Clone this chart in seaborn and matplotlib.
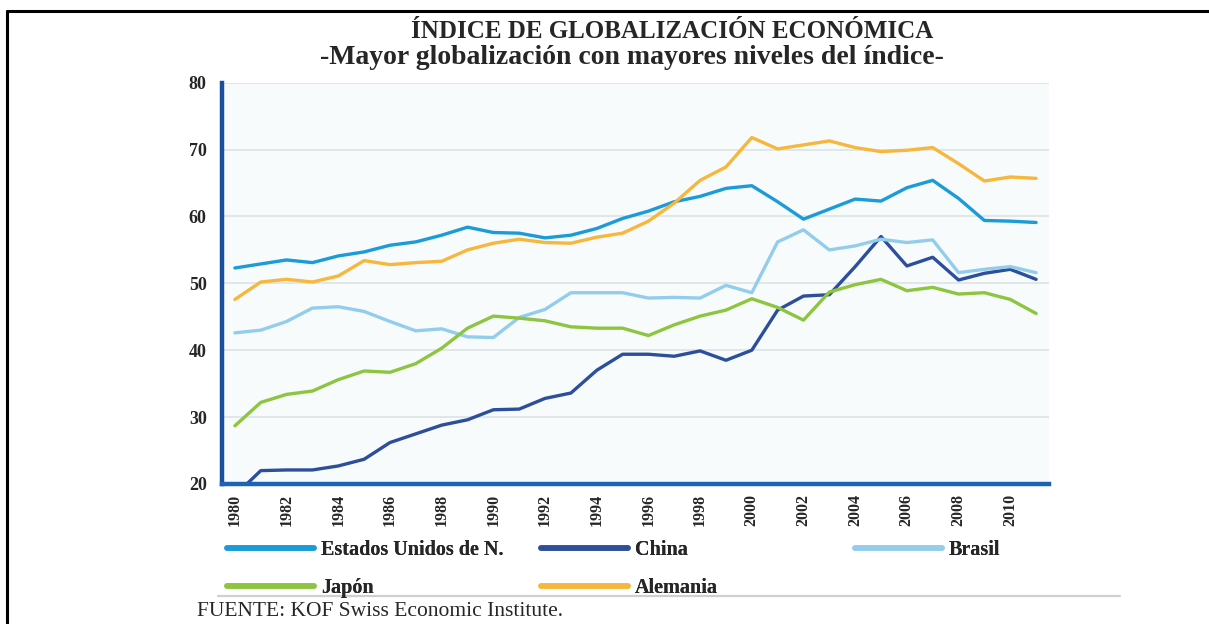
import numpy as np
import pandas as pd
import matplotlib
matplotlib.use("Agg")
import matplotlib.pyplot as plt
from matplotlib.lines import Line2D
import seaborn as sns

# data (KOF index, 1980-2011)
years = list(range(1980, 2012))
estados_unidos = [52.3, 52.9, 53.5, 53.1, 54.1, 54.7, 55.7, 56.2, 57.2, 58.4, 57.6, 57.5,
                  56.8, 57.2, 58.2, 59.7, 60.8, 62.2, 63.0, 64.2, 64.6, 62.2, 59.6, 61.1,
                  62.6, 62.3, 64.3, 65.4, 62.7, 59.4, 59.3, 59.1]
china = [18.3, 22.0, 22.1, 22.1, 22.7, 23.7, 26.2, 27.5, 28.8, 29.6, 31.1, 31.2,
         32.8, 33.6, 37.0, 39.4, 39.4, 39.1, 39.9, 38.5, 40.0, 46.0, 48.1, 48.3,
         52.5, 57.0, 52.6, 53.9, 50.5, 51.5, 52.1, 50.6]
brasil = [42.6, 43.0, 44.3, 46.3, 46.5, 45.8, 44.3, 42.9, 43.2, 42.0, 41.9, 44.9,
          46.1, 48.6, 48.6, 48.6, 47.8, 47.9, 47.8, 49.7, 48.6, 56.2, 58.0, 55.0,
          55.6, 56.6, 56.1, 56.5, 51.6, 52.1, 52.5, 51.6]
japon = [28.7, 32.2, 33.4, 33.9, 35.6, 36.9, 36.7, 38.0, 40.3, 43.3, 45.1, 44.8,
         44.4, 43.5, 43.3, 43.3, 42.2, 43.8, 45.1, 46.0, 47.7, 46.4, 44.5, 48.7,
         49.8, 50.6, 48.9, 49.4, 48.4, 48.6, 47.6, 45.5]
alemania = [47.6, 50.2, 50.6, 50.2, 51.1, 53.4, 52.8, 53.1, 53.3, 55.0, 56.0, 56.6,
            56.1, 56.0, 56.9, 57.5, 59.3, 62.0, 65.4, 67.4, 71.8, 70.1, 70.7, 71.3,
            70.3, 69.7, 69.9, 70.3, 67.9, 65.3, 65.9, 65.7]

paises = ["Estados Unidos de N.", "China", "Brasil", "Japón", "Alemania"]
colores = ["#1b9bd7", "#2c4e9b", "#93cdec", "#8dc540", "#f6b73c"]
series = [estados_unidos, china, brasil, japon, alemania]
y_ticks = [20, 30, 40, 50, 60, 70, 80]

rows = []
for pais, vals in zip(paises, series):
    for i, v in enumerate(vals):
        rows.append({"idx": i, "anio": years[i], "pais": pais, "valor": v})
df = pd.DataFrame(rows)

sns.set_style("white")
plt.rcParams['font.family'] = ['Liberation Serif', 'DejaVu Serif']

W, H = 1209, 624
fig = plt.figure(figsize=(W / 100, H / 100), dpi=100)
ax = fig.add_axes([222 / W, 1 - 484 / H, (1049 - 222) / W, (484 - 82.7) / H])
ax.set_facecolor("#f7fbfc")

sns.lineplot(data=df, x="idx", y="valor", hue="pais", hue_order=paises,
             palette=dict(zip(paises, colores)), linewidth=2.4, legend=False, ax=ax)

ax.set_xlim(-0.5, len(years) - 0.5)
ax.set_ylim(20, 80)
ax.set_xlabel("")
ax.set_ylabel("")

# y axis
ax.set_yticks(y_ticks)
ax.set_yticklabels([str(t) for t in y_ticks], fontsize=13, fontweight="bold")
ax.yaxis.grid(True, color="#dde5e8", linewidth=1.3)
ax.set_axisbelow(True)

# x axis: labels every 2nd year, tick marks on the category boundaries
lab_pos = list(range(0, len(years), 2))
ax.set_xticks(lab_pos)
ax.set_xticklabels([str(years[i]) for i in lab_pos], rotation=90, fontsize=11.5,
                   fontweight="bold", va="top")
ax.set_xticks([i - 0.5 for i in range(0, len(years) + 1, 2)], minor=True)
ax.tick_params(axis="x", which="major", length=0, pad=7)
ax.tick_params(axis="x", which="minor", length=7, width=3.5, color="#2b4c8c")
ax.tick_params(axis="y", length=7, width=3.5, color="#2b4c8c", pad=4)

for s in ["top", "right"]:
    ax.spines[s].set_visible(False)
ax.spines["left"].set_color("#1a4fa0")
ax.spines["left"].set_linewidth(3.2)
ax.spines["bottom"].set_color("#1c62b8")
ax.spines["bottom"].set_linewidth(3.2)

# titles
fig.text(672 / W, 1 - 31 / H, "ÍNDICE DE GLOBALIZACIÓN ECONÓMICA", ha="center",
         va="center", fontsize=18, fontweight="bold")
fig.text(632 / W, 1 - 58 / H, "-Mayor globalización con mayores niveles del índice-",
         ha="center", va="center", fontsize=20, fontweight="bold")

# legend split in three columns like the original
def handle(c):
    return Line2D([0], [0], color=c, linewidth=4, solid_capstyle="round")

leg_kw = dict(frameon=False, borderpad=0, borderaxespad=0, handlelength=4.3,
              handletextpad=0.35, labelspacing=0.9,
              prop={"family": "Liberation Serif", "weight": "bold", "size": 14.5})
cols = [([0, 3], 227, 569), ([1, 4], 541, 569), ([2], 855, 550)]
for idxs, px, py in cols:
    lg = fig.legend([handle(colores[i]) for i in idxs], [paises[i] for i in idxs],
                    loc="center left", bbox_to_anchor=(px / W, 1 - py / H), **leg_kw)
    fig.add_artist(lg)

fig.add_artist(Line2D([218 / W, 1120 / W], [1 - 596 / H] * 2,
                      color="#cfcfcf", linewidth=1.6))

fig.text(197 / W, 1 - 612 / H, "FUENTE: KOF Swiss Economic Institute.",
         ha="left", va="center", fontsize=15.5)

# outer frame (top and left edges)
fig.add_artist(Line2D([7 / W, 1], [1 - 11 / H] * 2, color="black", linewidth=2.2))
fig.add_artist(Line2D([7 / W, 7 / W], [0, 1 - 11 / H], color="black", linewidth=2.2))

fig.savefig("out.png", dpi=100)
